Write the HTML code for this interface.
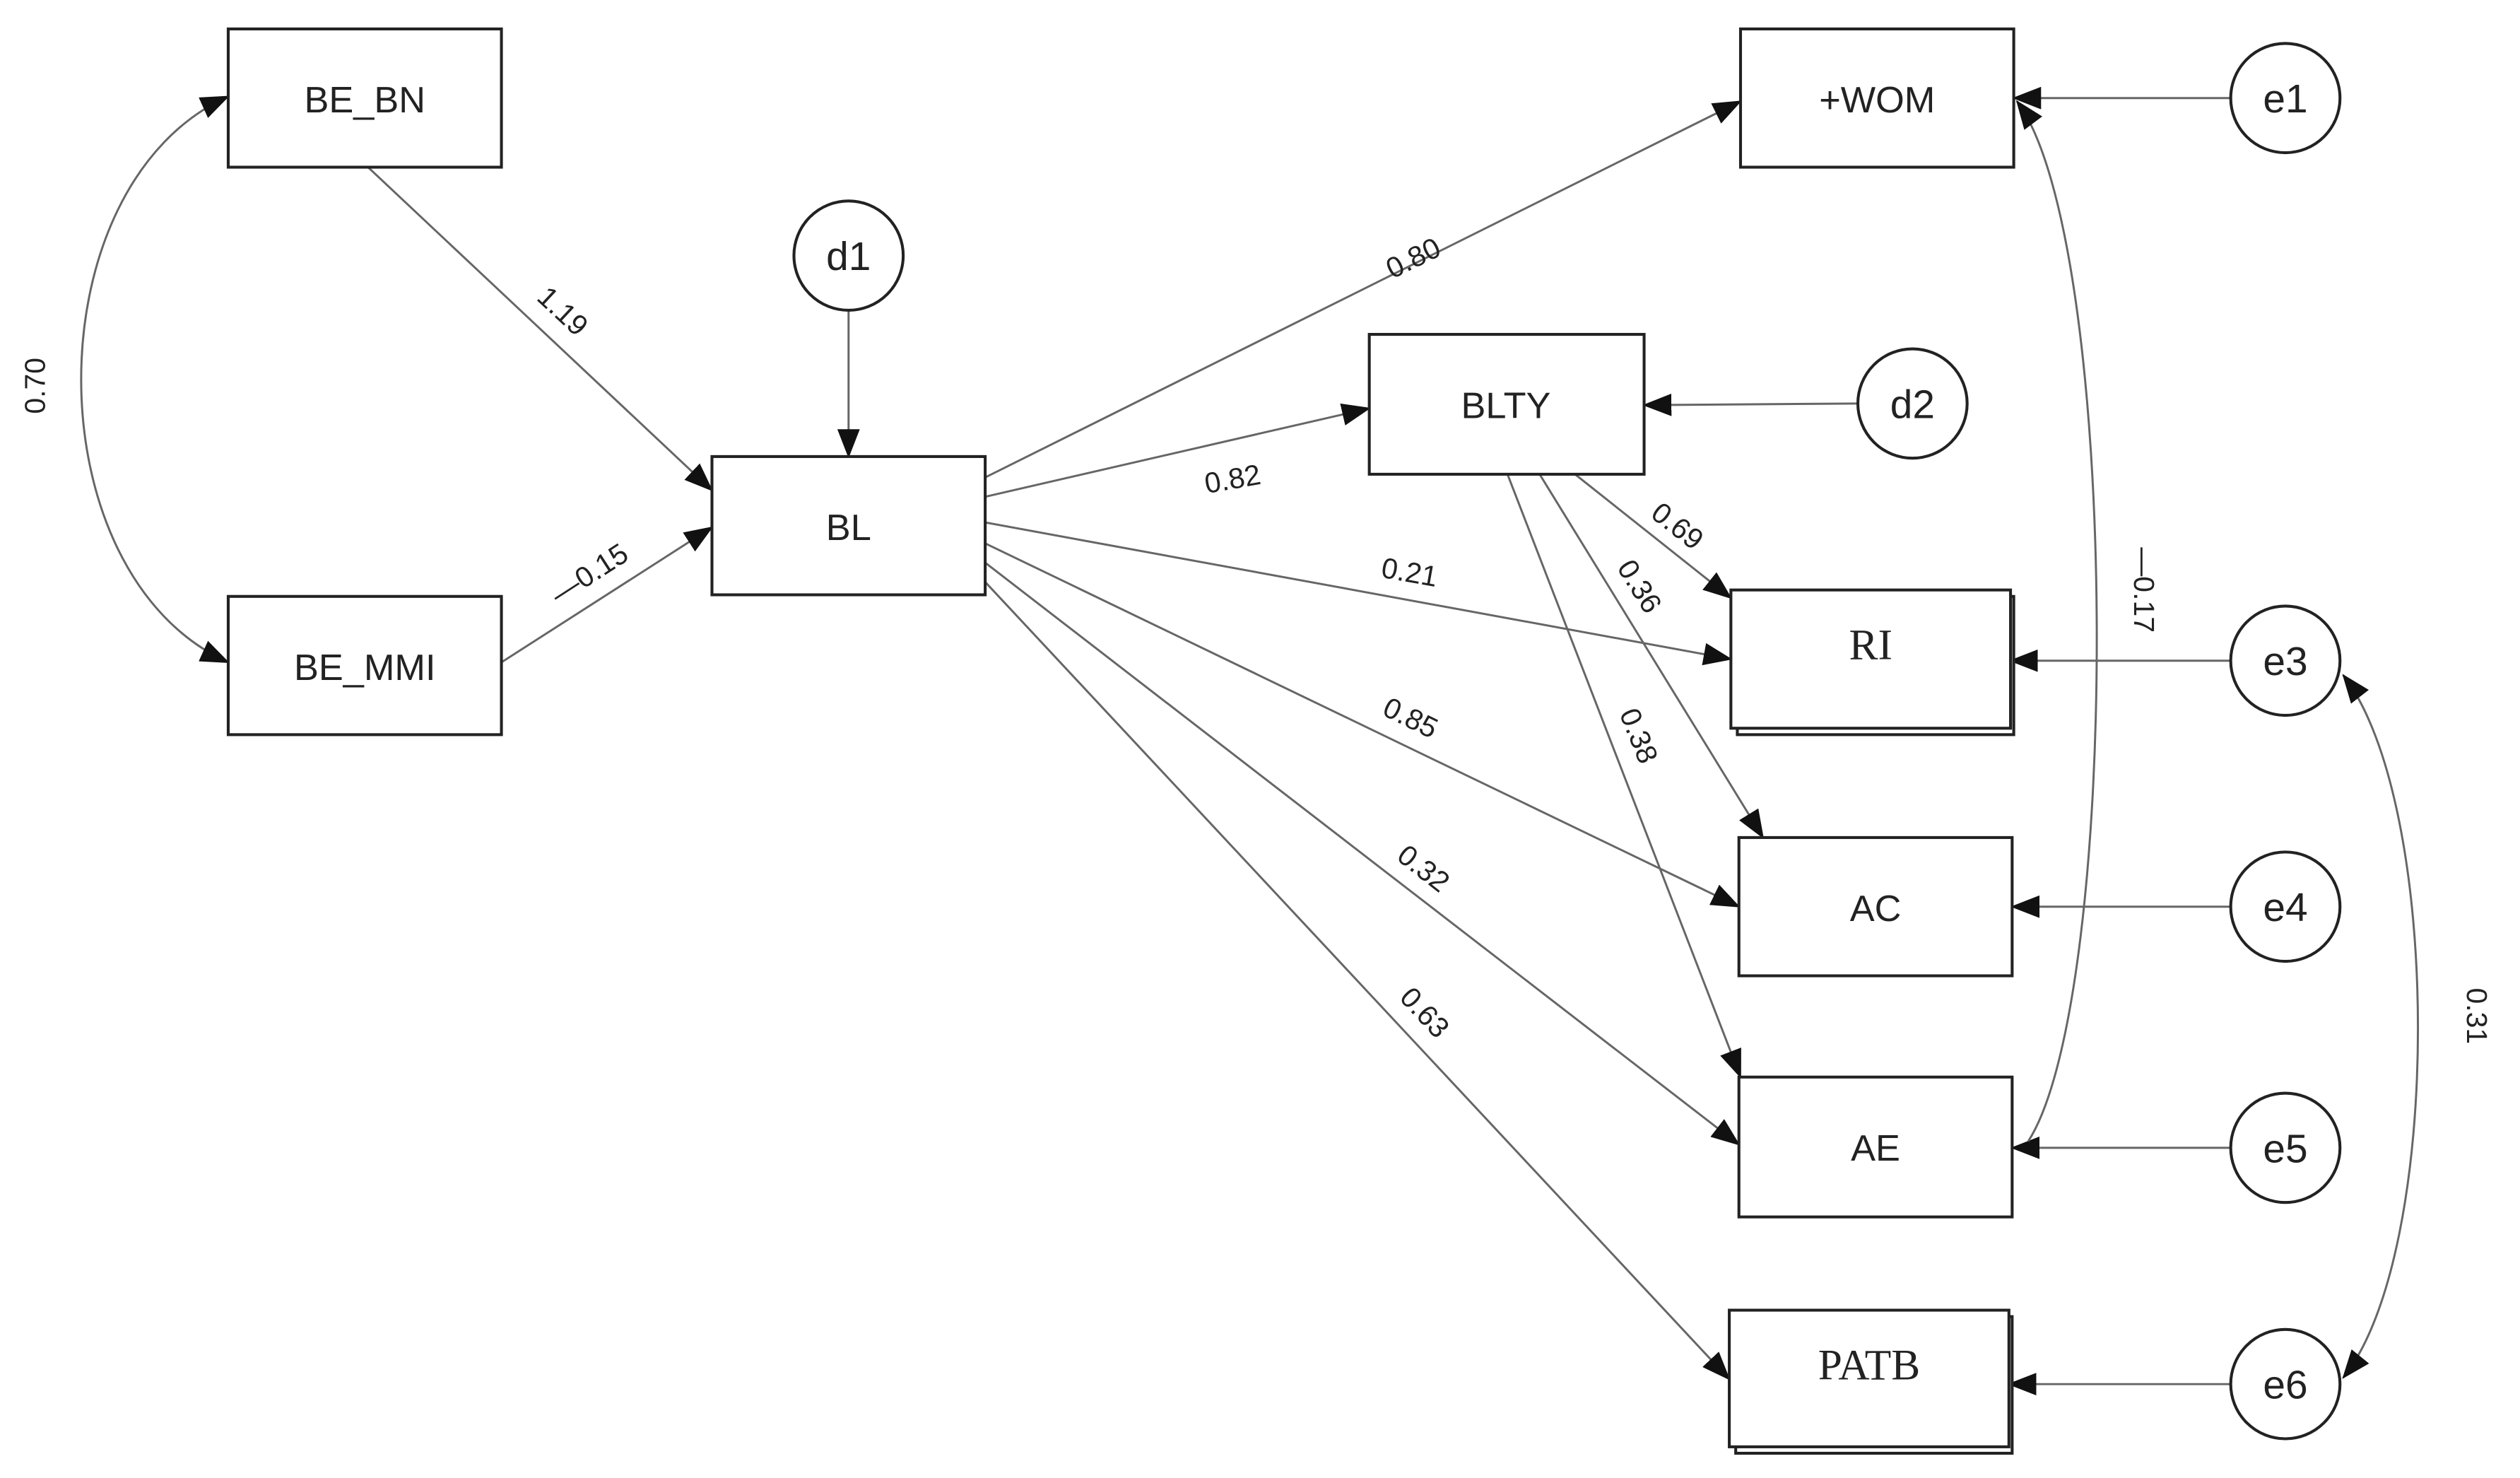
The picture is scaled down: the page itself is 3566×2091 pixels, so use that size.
<!DOCTYPE html>
<html><head><meta charset="utf-8"><style>
html,body{margin:0;padding:0;background:#fff;width:3566px;height:2091px;overflow:hidden}
svg{display:block}
text{font-family:"Liberation Sans","DejaVu Sans",sans-serif;fill:#222}
.bx{fill:#fff;stroke:#222;stroke-width:1.8}
.ln{stroke:#666;stroke-width:1.3;fill:none}
.lb{font-size:18px}
.nl{font-size:23px;text-anchor:middle}
.sr{font-family:"Liberation Serif",serif;font-size:27px;text-anchor:middle}
</style></head><body>
<svg width="3566" height="2091" viewBox="0 0 1568 919.4" preserveAspectRatio="none" xmlns="http://www.w3.org/2000/svg">
<defs><marker id="a" markerWidth="18" markerHeight="14" refX="17" refY="7" orient="auto-start-reverse" markerUnits="userSpaceOnUse"><path d="M0,0 L18,7 L0,14 z" fill="#111"/></marker></defs>
<g class="ln" marker-end="url(#a)">
<line x1="229" y1="104" x2="443" y2="305"/>
<line x1="312" y1="412" x2="443" y2="328"/>
<path d="M142,60 C20,115 20,357 142,412" marker-start="url(#a)"/>
<line x1="528" y1="193" x2="528" y2="284"/>
<line x1="613" y1="297" x2="1083" y2="63"/>
<line x1="613" y1="309" x2="852" y2="254"/>
<line x1="613" y1="325" x2="1077" y2="410"/>
<line x1="613" y1="338" x2="1082" y2="564"/>
<line x1="613" y1="350" x2="1082" y2="712"/>
<line x1="613" y1="362" x2="1076" y2="858"/>
<line x1="980" y1="295" x2="1077" y2="372"/>
<line x1="958" y1="295" x2="1097" y2="521"/>
<line x1="938" y1="295" x2="1083" y2="670"/>
<line x1="1156" y1="251" x2="1023" y2="252"/>
<line x1="1388" y1="61" x2="1253" y2="61"/>
<line x1="1388" y1="411" x2="1251" y2="411"/>
<line x1="1388" y1="564" x2="1252" y2="564"/>
<line x1="1388" y1="714" x2="1252" y2="714"/>
<line x1="1388" y1="861" x2="1250" y2="861"/>
<path d="M1262,710 C1320,620 1320,150 1255,63"/>
<path d="M1458,420 C1520,500 1520,780 1458,857" marker-start="url(#a)"/>
</g>
<rect class="bx" x="142" y="18" width="170" height="86"/><text class="nl" x="227" y="70">BE_BN</text>
<rect class="bx" x="142" y="371" width="170" height="86"/><text class="nl" x="227" y="423">BE_MMI</text>
<rect class="bx" x="443" y="284" width="170" height="86"/><text class="nl" x="528" y="336">BL</text>
<rect class="bx" x="852" y="208" width="171" height="87"/><text class="nl" x="937" y="260">BLTY</text>
<rect class="bx" x="1083" y="18" width="170" height="86"/><text class="nl" x="1168" y="70">+WOM</text>
<rect class="bx" x="1081" y="371" width="172" height="86"/>
<rect class="bx" x="1077" y="367" width="174" height="86"/><text class="sr" x="1164" y="410">RI</text>
<rect class="bx" x="1082" y="521" width="170" height="86"/><text class="nl" x="1167" y="573">AC</text>
<rect class="bx" x="1082" y="670" width="170" height="87"/><text class="nl" x="1167" y="722">AE</text>
<rect class="bx" x="1080" y="819" width="172" height="85"/>
<rect class="bx" x="1076" y="815" width="174" height="85"/><text class="sr" x="1163" y="858">PATB</text>
<g class="bx"><circle cx="528" cy="159" r="34"/><circle cx="1190" cy="251" r="34"/><circle cx="1422" cy="61" r="34"/><circle cx="1422" cy="411" r="34"/><circle cx="1422" cy="564" r="34"/><circle cx="1422" cy="714" r="34"/><circle cx="1422" cy="861" r="34"/></g>
<g class="nl" style="font-size:25px"><text x="528" y="168">d1</text><text x="1190" y="260">d2</text><text x="1422" y="70">e1</text><text x="1422" y="420">e3</text><text x="1422" y="573">e4</text><text x="1422" y="723">e5</text><text x="1422" y="870">e6</text></g>
<g class="lb" text-anchor="middle">
<text transform="translate(346,198) rotate(43)">1.19</text>
<text transform="translate(370,362) rotate(-33)">—0.15</text>
<text transform="translate(28,240) rotate(-90)">0.70</text>
<text transform="translate(882,166) rotate(-26)">0.80</text>
<text transform="translate(768,304) rotate(-10)">0.82</text>
<text transform="translate(876,362) rotate(10)">0.21</text>
<text transform="translate(875,452) rotate(26)">0.85</text>
<text transform="translate(882,545) rotate(38)">0.32</text>
<text transform="translate(882,634) rotate(47)">0.63</text>
<text transform="translate(1040,332) rotate(38)">0.69</text>
<text transform="translate(1015,368) rotate(58)">0.36</text>
<text transform="translate(1014,460) rotate(68)">0.38</text>
<text transform="translate(1328,367) rotate(90)">—0.17</text>
<text transform="translate(1535,632) rotate(90)">0.31</text>
</g>
</svg>
</body></html>
